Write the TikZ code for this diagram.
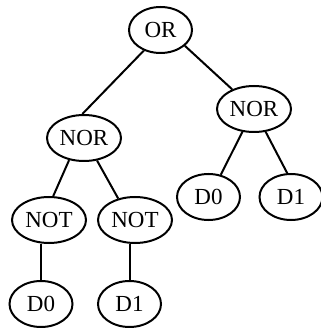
\documentclass[tikz,border=0pt]{standalone}
\usepackage{fontspec}
\setmainfont{Liberation Serif}
\usetikzlibrary{shapes.geometric}
\begin{document}
\begin{tikzpicture}[x=1pt,y=-1pt,
  gate/.style={ellipse,draw,line width=2pt,inner sep=0pt,minimum height=46pt,
    font=\fontsize{23}{27}\selectfont},
  small/.style={gate,minimum width=63pt},
  wide/.style={gate,minimum width=74pt},
  wire/.style={line width=2pt}]
\useasboundingbox (0,0) rectangle (320,328);
% gates and inputs
\node[small] (or)   at (160.5,30)  {OR};
\node[wide]  (norL) at (84,138)    {NOR};
\node[wide]  (norR) at (254,109)   {NOR};
\node[wide]  (notL) at (49,220)    {NOT};
\node[wide]  (notR) at (135,220)   {NOT};
\node[small] (d0L)  at (41,304)    {D0};
\node[small] (d1L)  at (129.5,304) {D1};
\node[small] (d0R)  at (208.5,197) {D0};
\node[small] (d1R)  at (291,197)   {D1};
% connections
\draw[wire] (or.231) -- (norL.94);
\draw[wire] (or.327) -- (norR.138);
\draw[wire] (norL.236) -- (notL.80);
\draw[wire] (norL.300) -- (notR.128);
\draw[wire] (norR.243) -- (d0R.61);
\draw[wire] (norR.297) -- (d1R.99);
\draw[wire] (d0L.north) -- (d0L.north |- notL.south);
\draw[wire] (d1L.north) -- (d1L.north |- notR.south);
\end{tikzpicture}
\end{document}
